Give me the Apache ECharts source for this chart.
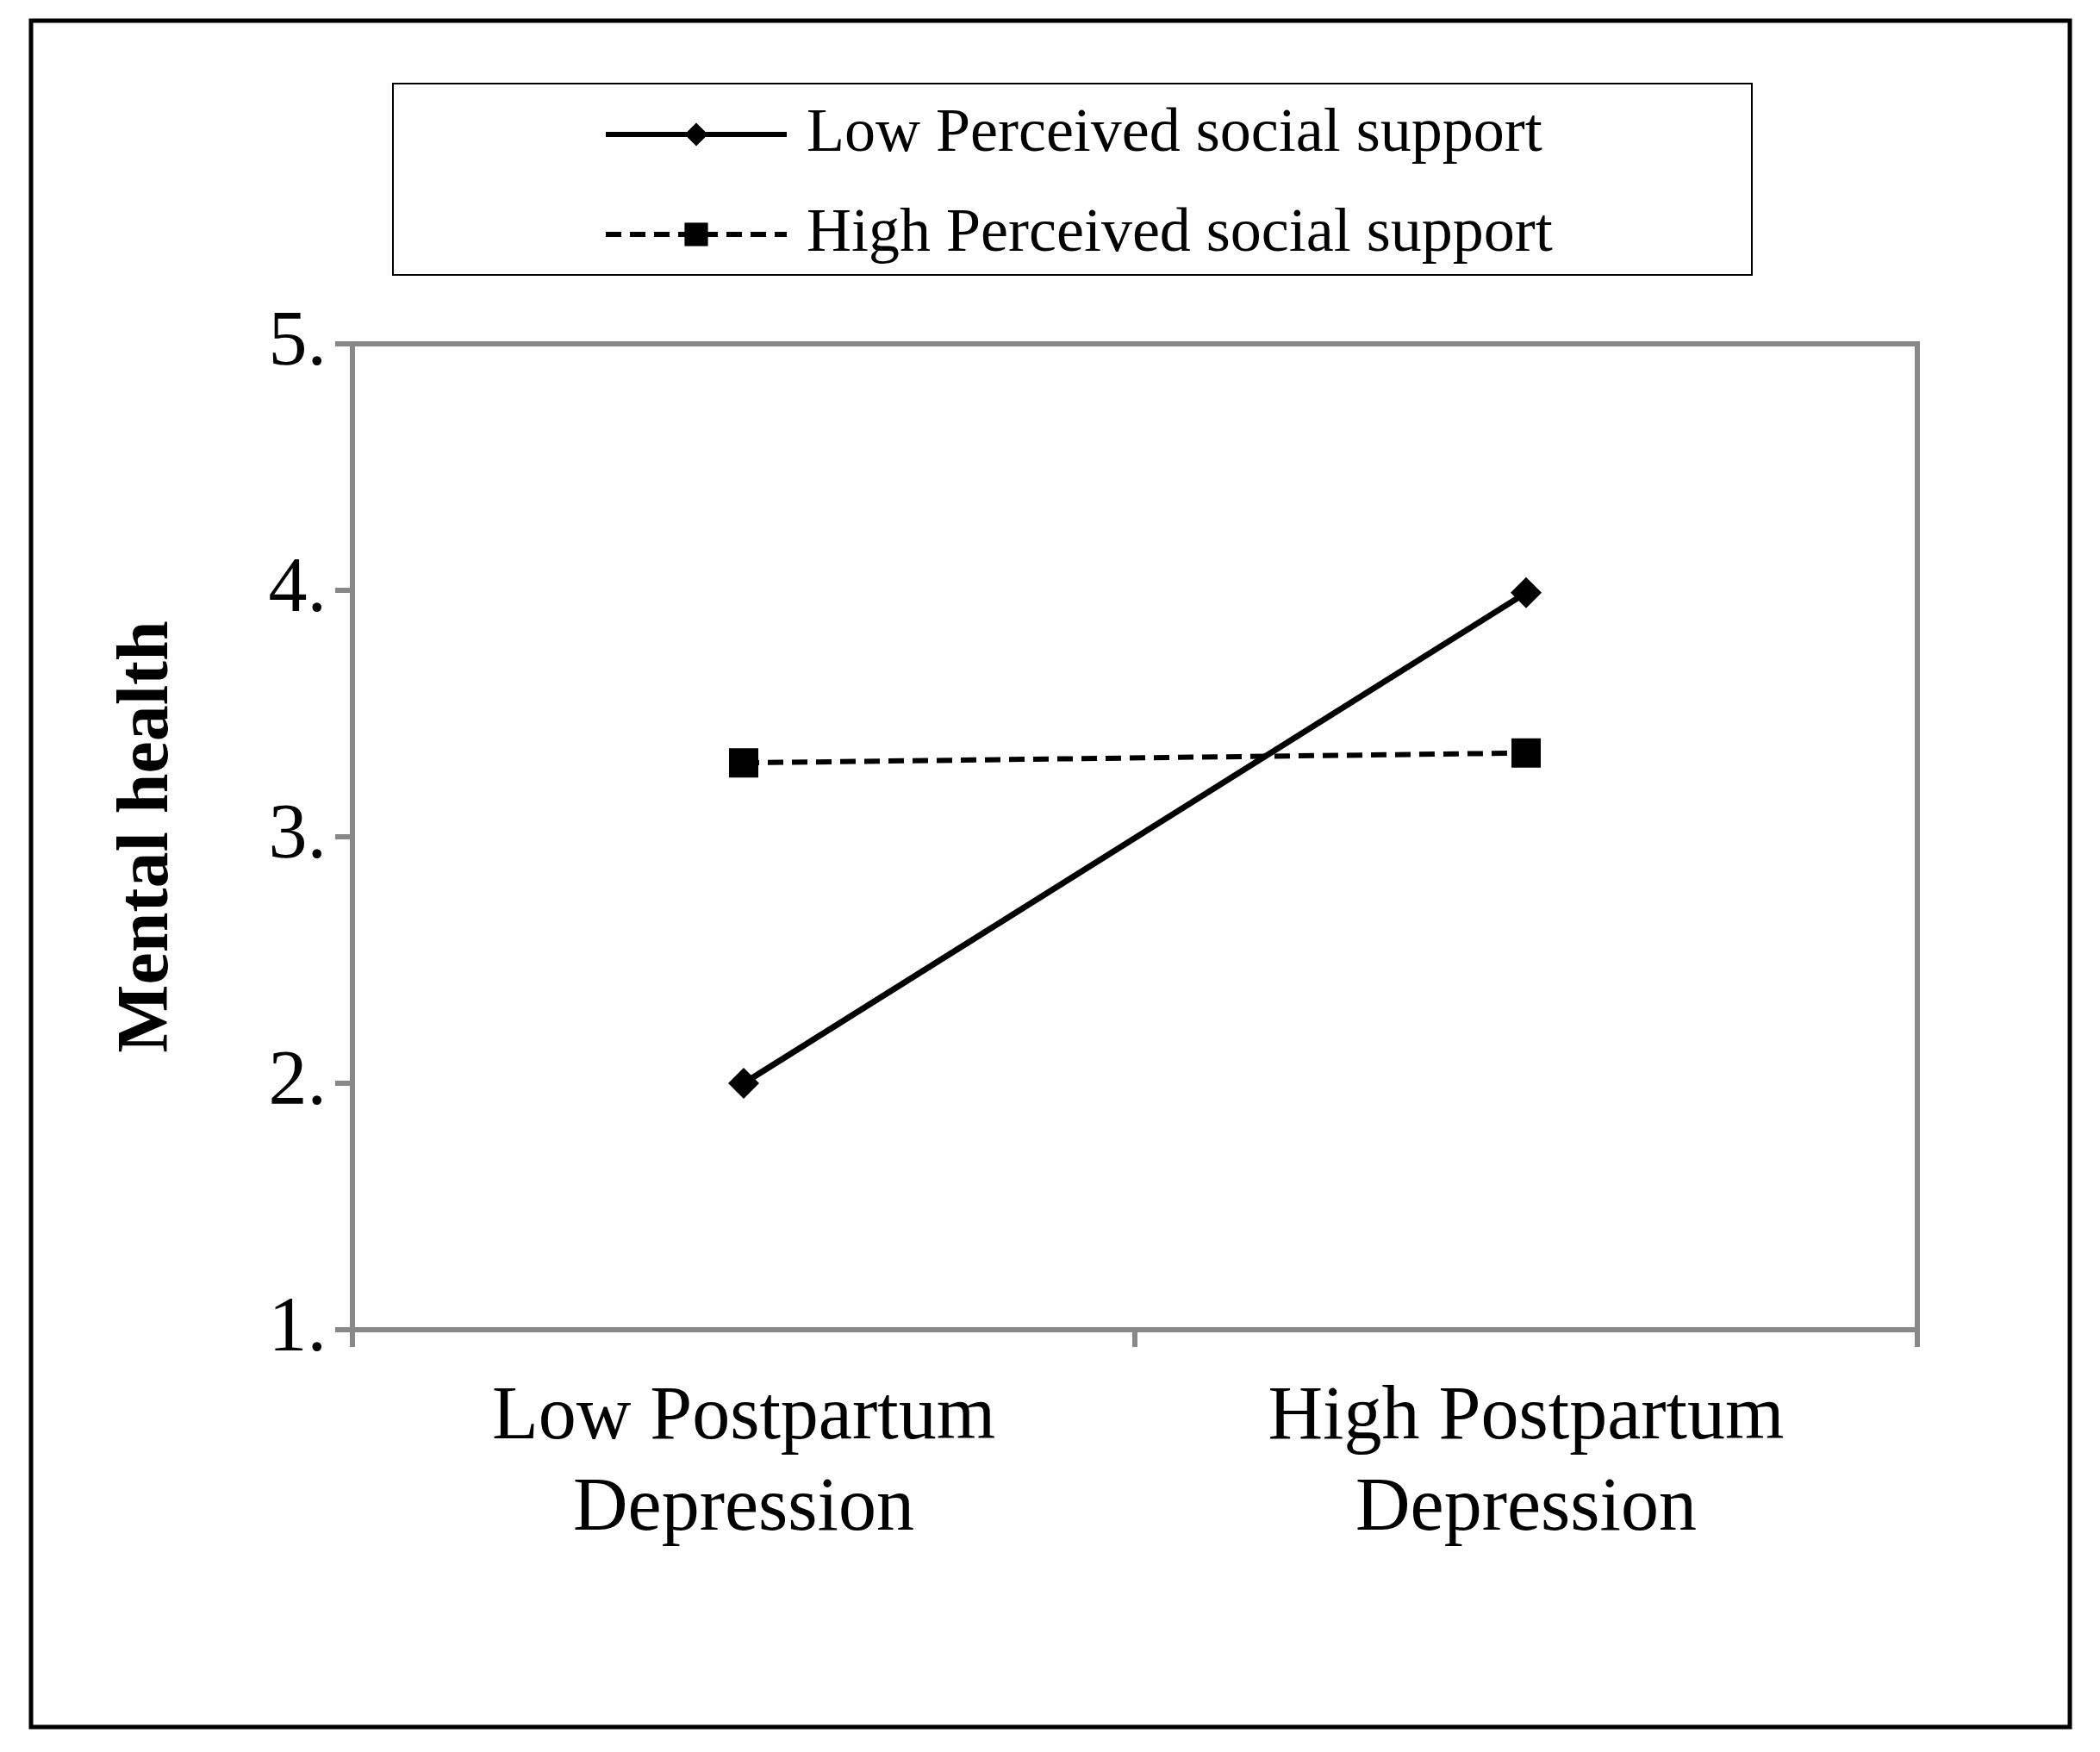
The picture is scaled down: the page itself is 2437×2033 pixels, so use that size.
<!DOCTYPE html>
<html><head><meta charset="utf-8">
<script src="https://cdn.jsdelivr.net/npm/echarts@6/dist/echarts.min.js"></script>
<style>html,body{margin:0;padding:0;background:#fff}#c{width:2437px;height:2033px}</style>
</head><body><div id="c"></div>
<script>
const categories = ['Low Postpartum\nDepression', 'High Postpartum\nDepression'];
const lowSupport = [2.0, 3.99];
const highSupport = [3.30, 3.34];
const yTicks = [1, 2, 3, 4, 5];
const seriesNames = ['Low Perceived social support', 'High Perceived social support'];

const chart = echarts.init(document.getElementById('c'));
const F = '"Liberation Serif", "Times New Roman", serif';
chart.setOption({
  animation: false,
  backgroundColor: '#fff',
  graphic: [
    {type:'rect', shape:{x:36,y:24,width:2366,height:1980}, style:{fill:'none',stroke:'#000',lineWidth:5}},
    {type:'rect', shape:{x:456,y:97,width:1577,height:222}, style:{fill:'none',stroke:'#000',lineWidth:2}}
  ],
  legend: {
    orient: 'vertical', left: 695, top: 115, itemGap: 44, itemWidth: 210, itemHeight: 34,
    lineStyle: {width: 6},
    textStyle: {fontFamily: F, fontSize: 72, color: '#000', padding: [0, 0, 0, 18]},
    data: seriesNames
  },
  grid: {left: 409, right: 2437-2225, top: 399, bottom: 2033-1543, show: true, borderColor: '#888', borderWidth: 6},
  xAxis: {
    type: 'category', data: categories, boundaryGap: true,
    axisLine: {lineStyle: {color: '#888', width: 6}},
    axisTick: {show: true, length: 20, lineStyle: {color: '#888', width: 6}},
    axisLabel: {fontFamily: F, fontSize: 88, color: '#000', margin: 50, lineHeight: 106}
  },
  yAxis: {
    type: 'value', min: 1, max: 5, interval: 1,
    name: 'Mental health', nameLocation: 'middle', nameGap: 195,
    nameTextStyle: {fontFamily: F, fontSize: 84, fontWeight: 'bold', color: '#000'},
    splitLine: {show: false},
    axisLine: {show: true, lineStyle: {color: '#888', width: 6}},
    axisTick: {show: true, length: 20, lineStyle: {color: '#888', width: 6}},
    axisLabel: {fontFamily: F, fontSize: 90, color: '#000', margin: 30, formatter: v => v + '.'}
  },
  series: [
    {name: seriesNames[0], type: 'line', data: lowSupport, symbol: 'diamond', symbolSize: 36,
     itemStyle: {color: '#000'}, lineStyle: {color: '#000', width: 7}},
    {name: seriesNames[1], type: 'line', data: highSupport, symbol: 'rect', symbolSize: 34,
     itemStyle: {color: '#000'}, lineStyle: {color: '#000', width: 6, type: [18, 10]}}
  ]
});
</script></body></html>
